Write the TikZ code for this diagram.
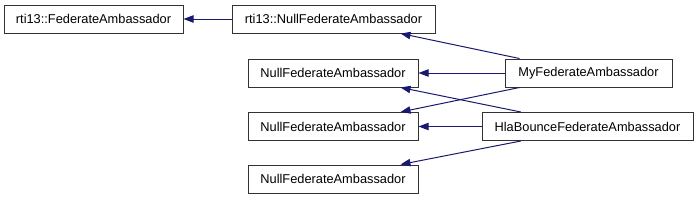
\documentclass[tikz,border=0pt]{standalone}
\usepackage{fontspec}
\setmainfont{Liberation Sans}
\usetikzlibrary{arrows.meta}
\definecolor{edgecol}{HTML}{191970}
\tikzset{
  cls/.style={draw=black!80, line width=0.75pt, fill=white, minimum height=21pt, inner sep=0pt, font=\fontsize{9.6}{11}\selectfont},
  inh/.style={draw=edgecol, line width=0.75pt, {Triangle[length=7.5pt,width=5.5pt]}-},
}
\begin{document}
\begin{tikzpicture}[x=0.75pt,y=-0.75pt]
\useasboundingbox (0,0) rectangle (699,200);
\node[cls, minimum width=134.25pt] (A) at (93.5,19) {rti13::FederateAmbassador};
\node[cls, minimum width=152.25pt] (B) at (333.5,19) {rti13::NullFederateAmbassador};
\node[cls, minimum width=127.5pt] (C1) at (333,73) {NullFederateAmbassador};
\node[cls, minimum width=127.5pt] (C2) at (333,126.5) {NullFederateAmbassador};
\node[cls, minimum width=127.5pt] (C3) at (333,179) {NullFederateAmbassador};
\node[cls, minimum width=125.25pt] (My) at (588.5,73) {MyFederateAmbassador};
\node[cls, minimum width=158.25pt] (Hla) at (587.5,126.5) {HlaBounceFederateAmbassador};
\draw[inh] (A.east) -- (B.west);
\draw[inh] ([xshift=-26.25pt]B.south east) -- ([xshift=11.25pt]My.north west);
\draw[inh] (C1.east) -- (My.west);
\draw[inh] ([xshift=-13.5pt]C1.south east) -- ([xshift=-50pt]Hla.north);
\draw[inh] ([xshift=-13.5pt]C2.north east) -- ([xshift=11.25pt]My.south west);
\draw[inh] (C2.east) -- (Hla.west);
\draw[inh] ([xshift=-13.5pt]C3.north east) -- ([xshift=-50pt]Hla.south);
\end{tikzpicture}
\end{document}
